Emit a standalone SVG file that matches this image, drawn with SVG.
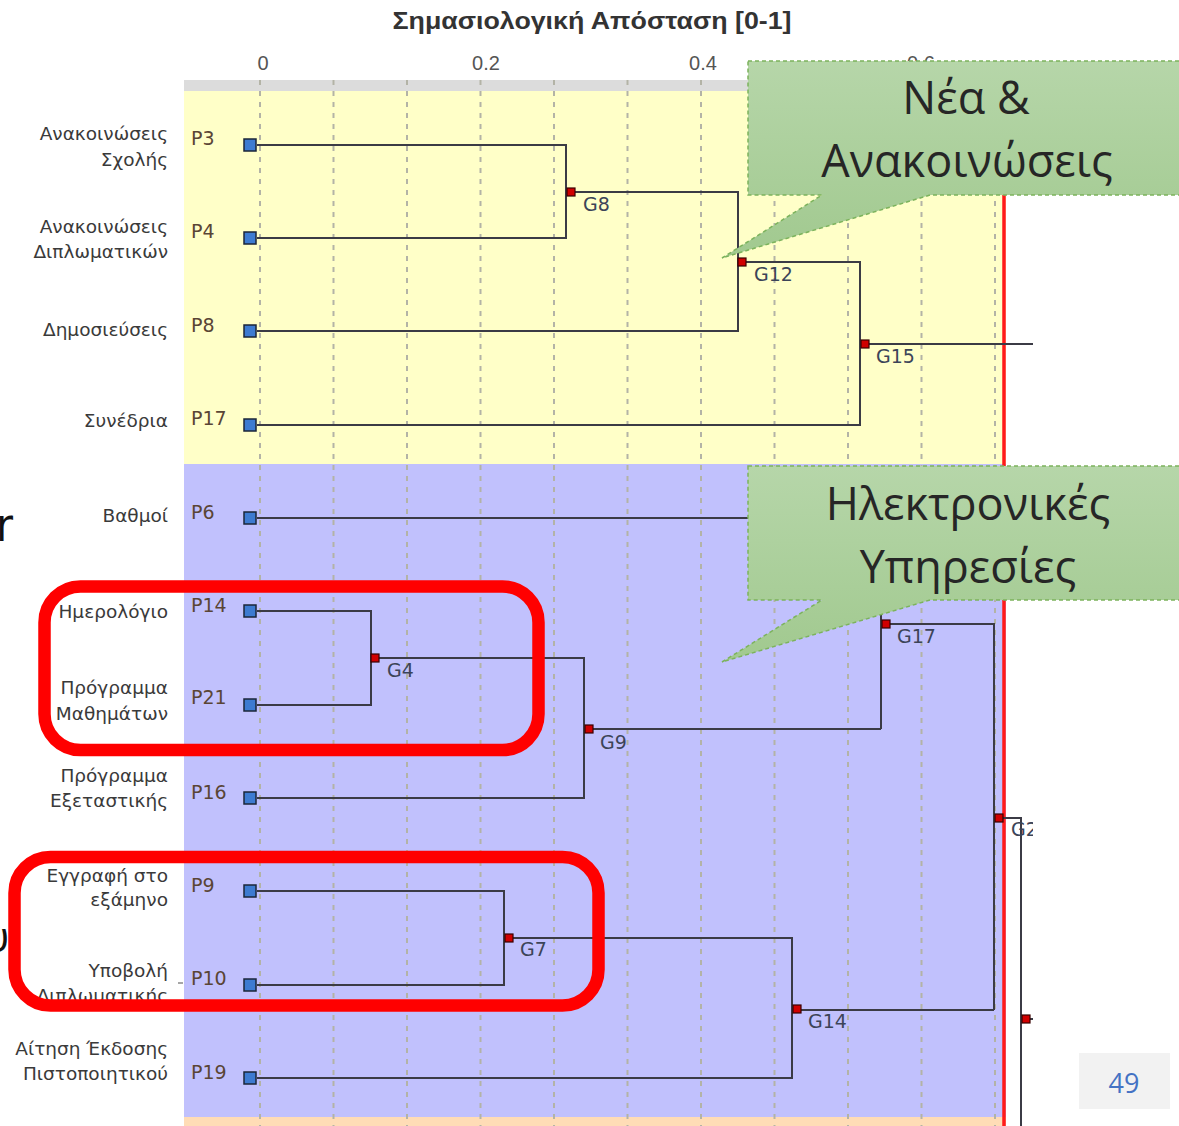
<svg xmlns="http://www.w3.org/2000/svg" width="1179" height="1126" viewBox="0 0 1179 1126">
<defs>
<style>
.grid{stroke:#b3b3a6;stroke-width:2;stroke-dasharray:5 6;fill:none}
.ln{stroke:#3b3b45;stroke-width:2;fill:none}
.leaf{fill:#3d7bd1;stroke:#1b2638;stroke-width:1.5}
.gn{fill:#d00000;stroke:#3a0000;stroke-width:1.2}
.lbl{font-family:"DejaVu Sans",sans-serif;font-size:18.5px;fill:#3a3a3a;text-anchor:end}
.pl{font-family:"DejaVu Sans",sans-serif;font-size:19px;fill:#5a4535}
.gl{font-family:"DejaVu Sans",sans-serif;font-size:19px;fill:#3c4458}
.ax{font-family:"Liberation Sans",Arial,sans-serif;font-size:20px;fill:#555;text-anchor:middle}
.co{stroke:#7cb35c;stroke-width:1.5;stroke-dasharray:4 3;fill:url(#cg)}
.ct{font-family:"Open Sans",sans-serif;font-size:45px;fill:#262626;text-anchor:middle}
.hb{fill:none;stroke:#ff0000;stroke-width:12.5}
</style>
<linearGradient id="cg" x1="0" y1="0" x2="0" y2="1">
<stop offset="0" stop-color="#b6d6a9"/>
<stop offset="1" stop-color="#a1c98f"/>
</linearGradient>
<clipPath id="chartclip"><rect x="0" y="0" width="1033" height="1126"/></clipPath>
</defs>
<rect x="0" y="0" width="1179" height="1126" fill="#ffffff"/>

<g id="fragments" font-family="'DejaVu Sans Condensed',sans-serif" fill="#111">
<text x="-4" y="541" font-size="46">r</text>
<text x="9" y="952" font-size="42" text-anchor="end" font-family="'Open Sans',sans-serif">υ</text>
</g>

<text x="592" y="29" font-family="'Liberation Sans',Arial,sans-serif" font-size="23" font-weight="bold" fill="#333" text-anchor="middle" textLength="399" lengthAdjust="spacingAndGlyphs">Σημασιολογική Απόσταση [0-1]</text>

<g id="axis">
<text class="ax" x="263" y="70">0</text>
<text class="ax" x="486" y="70">0.2</text>
<text class="ax" x="703" y="70">0.4</text>
<text class="ax" x="921" y="70">0.6</text>
</g>

<g id="plot" clip-path="url(#chartclip)">
<rect x="184" y="80" width="822" height="11" fill="#dcdcdc"/>
<rect x="184" y="91" width="822" height="373" fill="#ffffc8"/>
<rect x="184" y="464" width="822" height="653" fill="#c1c1fd"/>
<rect x="184" y="1117" width="822" height="9" fill="#ffdcb6"/>

<g id="grid">
<path class="grid" d="M260,80V1126M333.5,80V1126M407,80V1126M480.5,80V1126M554,80V1126M627.5,80V1126M701,80V1126M774.5,80V1126M848,80V1126M921.5,80V1126M995,80V1126"/>
</g>

<line x1="1004" y1="80" x2="1004" y2="1126" stroke="#ff1a1a" stroke-width="3.5"/>

<g id="connectors">
<path class="ln" d="M257,145H566V238H257M571,192H738V331H257M742,262H860V425H257M865,344H1033"/>
<path class="ln" d="M257,518H881V729M257,611H371V705H257M375,658H584V798H257M589,729H881M886,624H994V1010"/>
<path class="ln" d="M257,891H504V985H257M509,938H792V1078H257M797,1010H994M999,818H1021V1126M1026,1019H1034"/>
</g>

<g id="P3"><text class="lbl" x="168" y="140">Ανακοινώσεις</text><text class="lbl" x="168" y="166">Σχολής</text><text class="pl" x="191" y="145">P3</text><rect class="leaf" x="244" y="139" width="12" height="12"/></g>
<g id="P4"><text class="lbl" x="168" y="233">Ανακοινώσεις</text><text class="lbl" x="168" y="258">Διπλωματικών</text><text class="pl" x="191" y="238">P4</text><rect class="leaf" x="244" y="232" width="12" height="12"/></g>
<g id="P8"><text class="lbl" x="168" y="336">Δημοσιεύσεις</text><text class="pl" x="191" y="332">P8</text><rect class="leaf" x="244" y="325" width="12" height="12"/></g>
<g id="P17"><text class="lbl" x="168" y="427">Συνέδρια</text><text class="pl" x="191" y="425">P17</text><rect class="leaf" x="244" y="419" width="12" height="12"/></g>
<g id="P6"><text class="lbl" x="168" y="522">Βαθμοί</text><text class="pl" x="191" y="519">P6</text><rect class="leaf" x="244" y="512" width="12" height="12"/></g>
<g id="P14"><text class="lbl" x="168" y="618">Ημερολόγιο</text><text class="pl" x="191" y="612">P14</text><rect class="leaf" x="244" y="605" width="12" height="12"/></g>
<g id="P21"><text class="lbl" x="168" y="694">Πρόγραμμα</text><text class="lbl" x="168" y="720">Μαθημάτων</text><text class="pl" x="191" y="704">P21</text><rect class="leaf" x="244" y="699" width="12" height="12"/></g>
<g id="P16"><text class="lbl" x="168" y="782">Πρόγραμμα</text><text class="lbl" x="168" y="807">Εξεταστικής</text><text class="pl" x="191" y="799">P16</text><rect class="leaf" x="244" y="792" width="12" height="12"/></g>
<g id="P9"><text class="lbl" x="168" y="882">Εγγραφή στο</text><text class="lbl" x="168" y="906">εξάμηνο</text><text class="pl" x="191" y="892">P9</text><rect class="leaf" x="244" y="885" width="12" height="12"/></g>
<g id="P10"><text class="lbl" x="168" y="977">Υποβολή</text><text class="lbl" x="168" y="1002">Διπλωματικής</text><line x1="178" y1="983" x2="183" y2="983" stroke="#888" stroke-width="1.5"/><text class="pl" x="191" y="985">P10</text><rect class="leaf" x="244" y="979" width="12" height="12"/></g>
<g id="P19"><text class="lbl" x="168" y="1055">Αίτηση Έκδοσης</text><text class="lbl" x="168" y="1080">Πιστοποιητικού</text><text class="pl" x="191" y="1079">P19</text><rect class="leaf" x="244" y="1072" width="12" height="12"/></g>

<g id="G8"><rect class="gn" x="567" y="188" width="8" height="8"/><text class="gl" x="583" y="211">G8</text></g>
<g id="G12"><rect class="gn" x="738" y="258" width="8" height="8"/><text class="gl" x="754" y="281">G12</text></g>
<g id="G15"><rect class="gn" x="861" y="340" width="8" height="8"/><text class="gl" x="876" y="363">G15</text></g>
<g id="G4"><rect class="gn" x="371" y="654" width="8" height="8"/><text class="gl" x="387" y="677">G4</text></g>
<g id="G9"><rect class="gn" x="585" y="725" width="8" height="8"/><text class="gl" x="600" y="749">G9</text></g>
<g id="G17"><rect class="gn" x="882" y="620" width="8" height="8"/><text class="gl" x="897" y="643">G17</text></g>
<g id="G7"><rect class="gn" x="505" y="934" width="8" height="8"/><text class="gl" x="520" y="956">G7</text></g>
<g id="G14"><rect class="gn" x="793" y="1005" width="8" height="8"/><text class="gl" x="808" y="1028">G14</text></g>
<g id="G2"><rect class="gn" x="995" y="814" width="8" height="8"/><text class="gl" x="1011" y="836">G2</text></g>
<g id="Gx"><rect class="gn" x="1022" y="1015" width="8" height="8"/></g>
</g>

<g id="callout-news">
<path class="co" d="M748,61H1185V195H930L722,258L822,195H748Z"/>
<text class="ct" x="966" y="114">Νέα &amp;</text>
<text class="ct" x="967" y="177">Ανακοινώσεις</text>
</g>
<g id="callout-services">
<path class="co" d="M748,466H1185V600H930L722,662L822,600H748Z"/>
<text class="ct" x="968" y="520">Ηλεκτρονικές</text>
<text class="ct" x="968" y="583">Υπηρεσίες</text>
</g>

<g id="highlights">
<rect class="hb" x="44.5" y="586.5" width="494" height="163.5" rx="36"/>
<rect class="hb" x="14.5" y="857" width="584" height="148.5" rx="36"/>
</g>

<g id="page-number">
<rect x="1079" y="1053" width="91" height="56" fill="#f2f2f2"/>
<text x="1124" y="1093" font-family="'Open Sans',sans-serif" font-size="27" fill="#4472c4" text-anchor="middle">49</text>
</g>
</svg>
